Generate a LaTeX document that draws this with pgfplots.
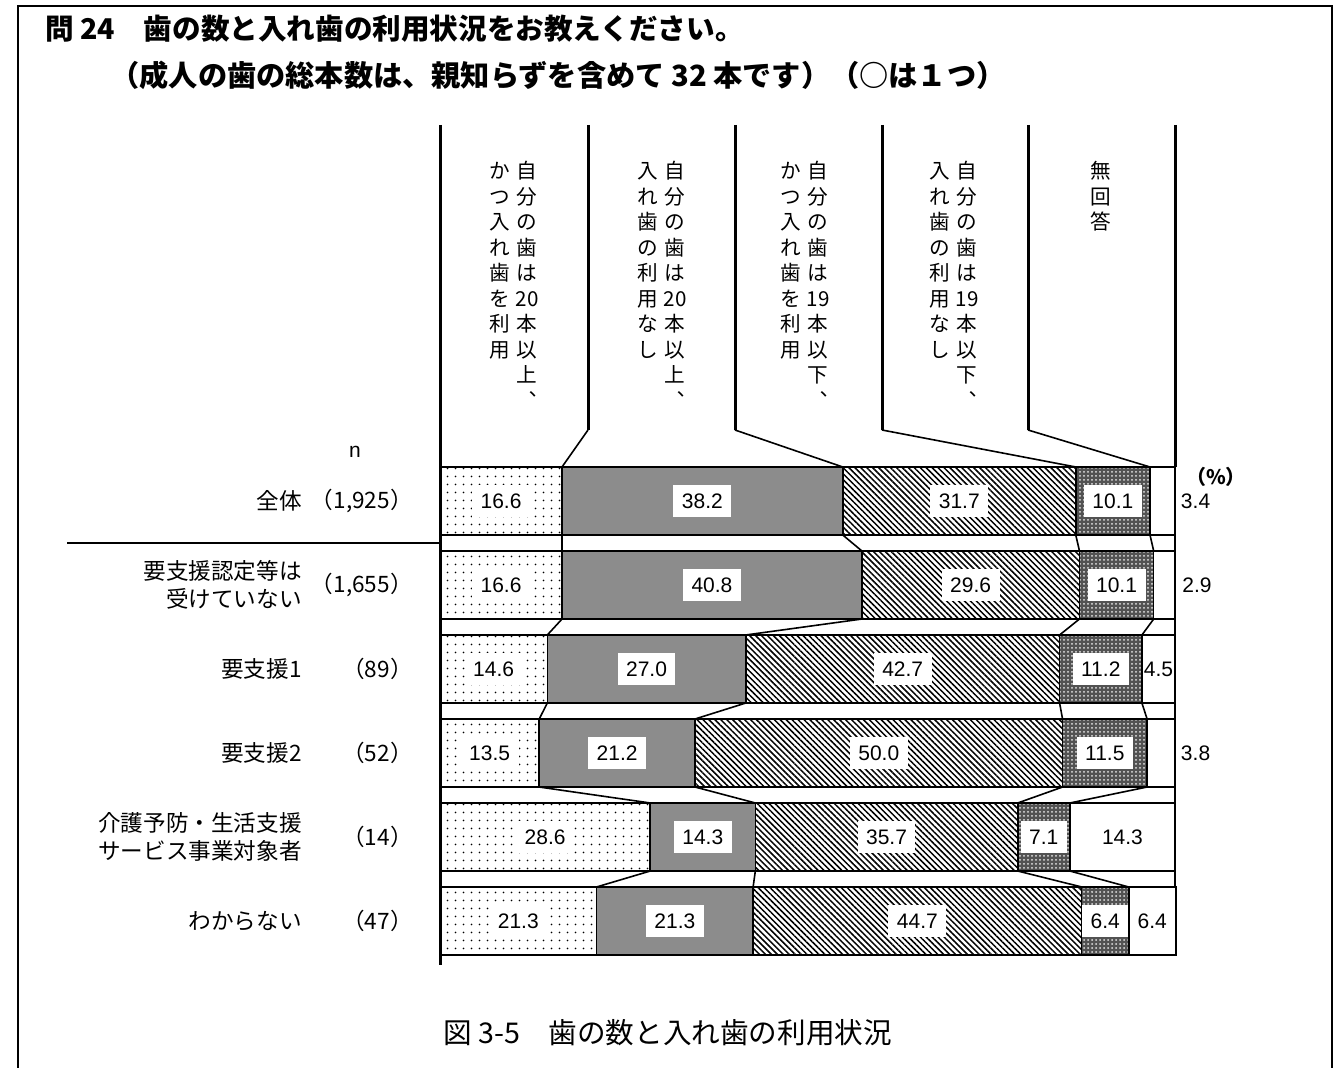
\documentclass[border=0pt]{standalone}
\usepackage{fontspec}
\setmainfont{Liberation Sans}
\newfontfamily\jp{Noto Sans CJK JP}
\usepackage{pgfplots}
\pgfplotsset{compat=1.18}
\usetikzlibrary{patterns.meta}
\newcommand{\px}[2]{({#1*0.5pt},{-#2*0.5pt})}
\newcommand{\vtext}[3]{\node[anchor=north, align=center, inner sep=0pt, font=\jp\fontsize{10.3}{12.75}\selectfont] at \px{#1}{#2} {#3};}
\begin{document}
\begin{tikzpicture}
\useasboundingbox \px{0}{0} rectangle \px{1333}{1068};
% frame
\draw[line width=1pt] \px{18}{1070} -- \px{18}{6} -- \px{1332}{6} -- \px{1332}{1070};
% titles
\node[anchor=west, inner sep=0pt, font=\jp\bfseries\fontsize{14.3}{16}\selectfont] at \px{45}{29} {問 24　歯の数と入れ歯の利用状況をお教えください。};
\node[anchor=west, inner sep=0pt, font=\jp\bfseries\fontsize{14.6}{16}\selectfont] at \px{110}{75} {（成人の歯の総本数は、親知らずを含めて 32 本です）（○は１つ）};
% bars
\begin{axis}[
  at={(220pt,-229.5pt)}, anchor=north west,
  scale only axis, width=367.5pt, height=252pt,
  xmin=0, xmax=100, ymin=-0.5, ymax=5.5, y dir=reverse,
  hide axis, clip=false,
  xbar stacked, bar width=34pt,
]
\addplot[draw=black, line width=0.8pt, fill=white, postaction={pattern={Dots[distance=4pt,radius=0.5pt]}}]
  coordinates {(16.6,0) (16.6,1) (14.6,2) (13.5,3) (28.6,4) (21.3,5)};
\addplot[draw=black, line width=0.8pt, fill=black!45]
  coordinates {(38.2,0) (40.8,1) (27.0,2) (21.2,3) (14.3,4) (21.3,5)};
\addplot[draw=black, line width=0.8pt, fill=white, postaction={pattern={Lines[angle=-45,distance=2.1pt,line width=0.75pt]}}]
  coordinates {(31.7,0) (29.6,1) (42.7,2) (50.0,3) (35.7,4) (44.7,5)};
\addplot[draw=black, line width=0.8pt, fill=black!68, postaction={pattern color=white!90!black, pattern={Dots[distance=2pt,radius=0.5pt]}}]
  coordinates {(10.1,0) (10.1,1) (11.2,2) (11.5,3) (7.1,4) (6.4,5)};
\addplot[draw=black, line width=0.8pt, fill=white]
  coordinates {(3.4,0) (2.9,1) (4.5,2) (3.8,3) (14.3,4) (6.4,5)};
\end{axis}
% connectors and labels
\begin{axis}[
  at={(220pt,-229.5pt)}, anchor=north west,
  scale only axis, width=367.5pt, height=252pt,
  xmin=0, xmax=100, ymin=-0.5, ymax=5.5, y dir=reverse,
  hide axis, clip=false,
]
\addplot[black, line width=0.8pt, mark=none, unbounded coords=jump] coordinates {
 (16.6,0.405) (16.6,0.595) (nan,nan) (16.6,1.405) (14.6,1.595) (nan,nan)
 (14.6,2.405) (13.5,2.595) (nan,nan) (13.5,3.405) (28.6,3.595) (nan,nan)
 (28.6,4.405) (21.3,4.595)};
\addplot[black, line width=0.8pt, mark=none, unbounded coords=jump] coordinates {
 (54.8,0.405) (57.4,0.595) (nan,nan) (57.4,1.405) (41.6,1.595) (nan,nan)
 (41.6,2.405) (34.7,2.595) (nan,nan) (34.7,3.405) (42.9,3.595) (nan,nan)
 (42.9,4.405) (42.6,4.595)};
\addplot[black, line width=0.8pt, mark=none, unbounded coords=jump] coordinates {
 (86.5,0.405) (87.0,0.595) (nan,nan) (87.0,1.405) (84.3,1.595) (nan,nan)
 (84.3,2.405) (84.7,2.595) (nan,nan) (84.7,3.405) (78.6,3.595) (nan,nan)
 (78.6,4.405) (87.3,4.595)};
\addplot[black, line width=0.8pt, mark=none, unbounded coords=jump] coordinates {
 (96.6,0.405) (97.1,0.595) (nan,nan) (97.1,1.405) (95.5,1.595) (nan,nan)
 (95.5,2.405) (96.2,2.595) (nan,nan) (96.2,3.405) (85.7,3.595) (nan,nan)
 (85.7,4.405) (93.7,4.595)};
\addplot[black, line width=0.8pt, mark=none, unbounded coords=jump] coordinates {
 (100,0.405) (100,0.595) (nan,nan) (100,1.405) (100,1.595) (nan,nan)
 (100,2.405) (100,2.595) (nan,nan) (100,3.405) (100,3.595) (nan,nan)
 (100,4.405) (100,4.595)};
% labels with white boxes
\addplot[draw=none, mark=none, nodes near coords, point meta=explicit symbolic,
  nodes near coords style={anchor=center, fill=white, inner xsep=4.25pt, inner ysep=4.5pt, font=\fontsize{10.5}{12}\selectfont}]
  table[meta=l] {
x y l
8.3 0 16.6
35.7 0 38.2
70.65 0 31.7
91.55 0 10.1
8.3 1 16.6
37.0 1 40.8
72.2 1 29.6
92.05 1 10.1
7.3 2 14.6
28.1 2 27.0
62.95 2 42.7
89.9 2 11.2
6.75 3 13.5
24.1 3 21.2
59.7 3 50.0
90.45 3 11.5
14.3 4 28.6
35.75 4 14.3
60.75 4 35.7
82.15 4 7.1
10.65 5 21.3
31.95 5 21.3
64.95 5 44.7
90.5 5 6.4
};
% labels without boxes
\addplot[draw=none, mark=none, nodes near coords, point meta=explicit symbolic,
  nodes near coords style={anchor=center, inner sep=0pt, font=\fontsize{10.5}{12}\selectfont}]
  table[meta=l] {
x y l
102.8 0 3.4
103.0 1 2.9
97.75 2 4.5
102.8 3 3.8
92.85 4 14.3
96.9 5 6.4
};
\end{axis}
% header lines
\draw[line width=1.5pt] \px{440}{125} -- \px{440}{965};
\foreach \x in {588,735,882,1028} {\draw[line width=1.5pt] \px{\x}{125} -- \px{\x}{430};}
\draw[line width=1.5pt] \px{1175}{125} -- \px{1175}{467};
\draw[line width=0.8pt] \px{588}{430} -- \px{562}{467};
\draw[line width=0.8pt] \px{735}{430} -- \px{842.8}{467};
\draw[line width=0.8pt] \px{882}{430} -- \px{1075.8}{467};
\draw[line width=0.8pt] \px{1028}{430} -- \px{1150}{467};
% vertical header text
\vtext{527}{161}{\vphantom{自}自\\分\\の\\歯\\は\\20\\本\\以\\上\\︑}
\vtext{500}{161}{\vphantom{自}か\\つ\\入\\れ\\歯\\を\\利\\用}
\vtext{675}{161}{\vphantom{自}自\\分\\の\\歯\\は\\20\\本\\以\\上\\︑}
\vtext{648}{161}{\vphantom{自}入\\れ\\歯\\の\\利\\用\\な\\し}
\vtext{818}{161}{\vphantom{自}自\\分\\の\\歯\\は\\19\\本\\以\\下\\︑}
\vtext{791}{161}{\vphantom{自}か\\つ\\入\\れ\\歯\\を\\利\\用}
\vtext{967}{161}{\vphantom{自}自\\分\\の\\歯\\は\\19\\本\\以\\下\\︑}
\vtext{940}{161}{\vphantom{自}入\\れ\\歯\\の\\利\\用\\な\\し}
\vtext{1101}{161}{\vphantom{自}無\\回\\答}
% row labels
\draw[line width=1pt] \px{67}{543} -- \px{442}{543};
\node[font=\fontsize{10.5}{12}\selectfont] at \px{355}{452} {n};
\node[font=\jp\bfseries\fontsize{10}{12}\selectfont] at \px{1216}{477} {（\%）};
\begin{scope}[every node/.style={anchor=east, align=right, inner sep=0pt, font=\jp\fontsize{11.3}{14}\selectfont}]
\node at \px{302}{501} {全体};
\node at \px{302}{585} {要支援認定等は\\受けていない};
\node at \px{302}{669} {要支援1};
\node at \px{302}{753} {要支援2};
\node at \px{302}{837} {介護予防・生活支援\\サービス事業対象者};
\node at \px{302}{921} {わからない};
\node at \px{413}{501} {（1,925）};
\node at \px{413}{585} {（1,655）};
\node at \px{413}{669} {（89）};
\node at \px{413}{753} {（52）};
\node at \px{413}{837} {（14）};
\node at \px{413}{921} {（47）};
\end{scope}
% caption
\node[anchor=west, inner sep=0pt, font=\jp\fontsize{14.3}{16}\selectfont] at \px{443}{1033} {図 3-5　歯の数と入れ歯の利用状況};
\end{tikzpicture}
\end{document}
